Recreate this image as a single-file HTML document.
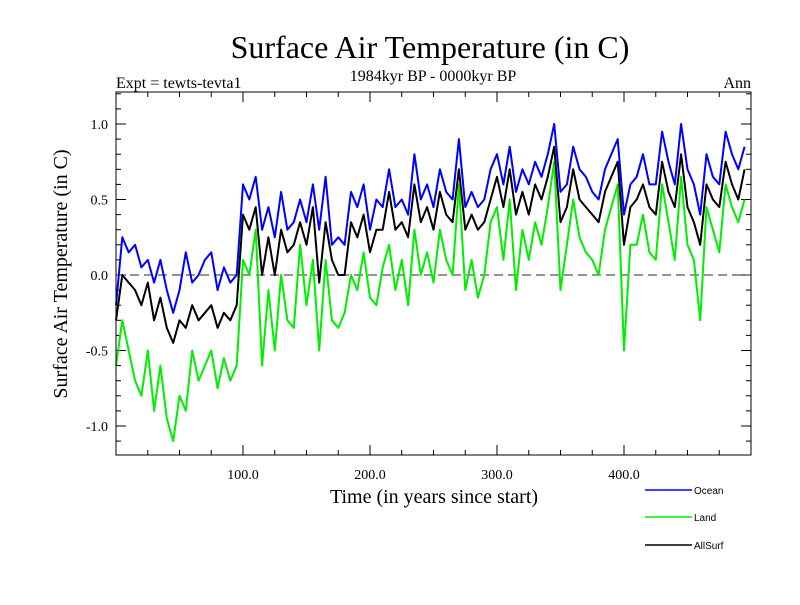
<!DOCTYPE html>
<html><head><meta charset="utf-8"><style>
body{margin:0;background:#fff}
svg text{font-family:"Liberation Serif",serif}
</style></head><body>
<svg width="800" height="600" xmlns="http://www.w3.org/2000/svg">
<text x="430" y="58" font-size="32" text-anchor="middle">Surface Air Temperature (in C)</text>
<text x="433" y="81" font-size="16" text-anchor="middle">1984kyr BP - 0000kyr BP</text>
<text x="116" y="88" font-size="16">Expt = tewts-tevta1</text>
<text x="751" y="88" font-size="16" text-anchor="end">Ann</text>
<text transform="translate(67,274) rotate(-90)" font-size="20" text-anchor="middle">Surface Air Temperature (in C)</text>
<text x="434" y="503" font-size="20" text-anchor="middle">Time (in years since start)</text>
<g id="axes"></g>
<g id="series"></g>
<rect x="116" y="92" width="635" height="363" fill="none" stroke="#000" stroke-width="1"/>
<g id="legend"></g>
</svg>
<script>
const years=[];for(let i=0;i<100;i++)years.push(i*5);
const ocean=[-0.2,0.25,0.15,0.2,0.05,0.1,-0.05,0.1,-0.1,-0.25,
-0.1,0.15,-0.05,0.0,0.1,0.15,-0.1,0.05,-0.05,0.0,
0.6,0.5,0.65,0.3,0.45,0.25,0.55,0.3,0.35,0.5,
0.35,0.6,0.3,0.65,0.2,0.25,0.2,0.55,0.45,0.6,
0.3,0.5,0.45,0.7,0.45,0.5,0.4,0.8,0.5,0.6,
0.45,0.7,0.55,0.5,0.9,0.45,0.55,0.45,0.5,0.7,
0.8,0.6,0.85,0.55,0.7,0.6,0.75,0.65,0.8,1.0,
0.55,0.6,0.85,0.7,0.65,0.55,0.5,0.7,0.8,0.9,
0.4,0.6,0.65,0.8,0.6,0.6,0.95,0.75,0.6,1.0,
0.7,0.6,0.4,0.8,0.65,0.6,0.95,0.8,0.7,0.85];
const land=[-0.6,-0.3,-0.5,-0.7,-0.8,-0.5,-0.9,-0.6,-0.95,-1.1,
-0.8,-0.9,-0.5,-0.7,-0.6,-0.5,-0.75,-0.55,-0.7,-0.6,
0.1,0.0,0.3,-0.6,-0.1,-0.5,0.0,-0.3,-0.35,0.2,
-0.2,0.1,-0.5,0.1,-0.3,-0.35,-0.25,0.0,-0.1,0.15,
-0.15,-0.2,0.05,0.2,-0.1,0.1,-0.2,0.3,0.0,0.15,
-0.05,0.3,0.1,0.0,0.6,-0.1,0.1,-0.15,0.0,0.35,
0.45,0.1,0.5,-0.1,0.3,0.1,0.35,0.2,0.45,0.75,
-0.1,0.2,0.5,0.25,0.15,0.1,0.0,0.3,0.45,0.6,
-0.5,0.2,0.2,0.4,0.15,0.1,0.6,0.35,0.1,0.65,
0.2,0.1,-0.3,0.45,0.3,0.15,0.6,0.45,0.35,0.5];
const allsurf=[-0.3,0.0,-0.05,-0.1,-0.2,-0.05,-0.3,-0.15,-0.35,-0.45,
-0.3,-0.35,-0.2,-0.3,-0.25,-0.2,-0.35,-0.25,-0.3,-0.2,
0.4,0.3,0.45,0.0,0.25,0.0,0.3,0.15,0.2,0.35,
0.2,0.45,-0.05,0.35,0.1,0.0,0.0,0.35,0.25,0.4,
0.15,0.3,0.3,0.55,0.3,0.35,0.25,0.6,0.35,0.45,
0.3,0.55,0.4,0.35,0.7,0.3,0.4,0.3,0.35,0.5,
0.65,0.45,0.7,0.4,0.55,0.4,0.6,0.5,0.65,0.85,
0.35,0.45,0.7,0.5,0.45,0.4,0.35,0.55,0.65,0.75,
0.2,0.45,0.5,0.6,0.45,0.4,0.75,0.55,0.45,0.8,
0.45,0.35,0.2,0.6,0.5,0.45,0.75,0.6,0.5,0.7];
const yTickLabels=["-1.0","-0.5","0.0","0.5","1.0"];
const xTickLabels=["100.0","200.0","300.0","400.0"];
const NS="http://www.w3.org/2000/svg";
const X=t=>116+t*1.27, Y=v=>275-v*151;
function mk(tag,attrs,parent){const e=document.createElementNS(NS,tag);for(const k in attrs)e.setAttribute(k,attrs[k]);parent.appendChild(e);return e;}
const ax=document.getElementById('axes');
for(let i=-11;i<=12;i++){const v=i/10,y=Y(v);const major=i%5===0;const l=major?10:5;
 const a=mk('line',{x1:116,x2:116+l,y1:y,y2:y,stroke:'#000'},ax);
 
 
 const b=mk('line',{x1:751-l,x2:751,y1:y,y2:y,stroke:'#000'},ax);
 
 }
yTickLabels.forEach(s=>{const t=mk('text',{x:108,y:Y(parseFloat(s))+5,'font-size':14,'text-anchor':'end'},ax);t.textContent=s;
 
 });
for(let t=25;t<500;t+=25){const major=t%100===0,l=major?10:5,x=X(t);
 const a=mk('line',{x1:x,x2:x,y1:455-l,y2:455,stroke:'#000'},ax);
 
 
 const b=mk('line',{x1:x,x2:x,y1:92,y2:92+l,stroke:'#000'},ax);
 
 }
xTickLabels.forEach(s=>{const t=mk('text',{x:X(parseFloat(s)),y:479,'font-size':14,'text-anchor':'middle'},ax);t.textContent=s;
 
 });
const zl=mk('line',{x1:116,x2:751,y1:Y(0),y2:Y(0),stroke:'#555','stroke-dasharray':'9,5','stroke-width':1.3},ax);


const sg=document.getElementById('series');
function line(vals,color,name){const p=vals.map((v,i)=>X(years[i]).toFixed(1)+','+Y(v).toFixed(1)).join(' ');
 const e=mk('polyline',{points:p,fill:'none',stroke:color,'stroke-width':2,'stroke-linejoin':'round'},sg);
 
 }
line(ocean,'#0000ff','ocean-line');
line(land,'#00ee00','land-line');
line(allsurf,'#000000','allsurf-line');
const lg=document.getElementById('legend');
[['Ocean','#0000ff',490],['Land','#00ee00',517],['AllSurf','#000000',545]].forEach(([n,c,y])=>{
 const l=mk('line',{x1:645,x2:692,y1:y,y2:y,stroke:c,'stroke-width':1.5},lg);
 
 
 const t=mk('text',{x:694,y:y+4,'font-size':10,style:'font-family:"Liberation Sans",sans-serif'},lg);t.textContent=n;
 
 });
</script>
</body></html>
